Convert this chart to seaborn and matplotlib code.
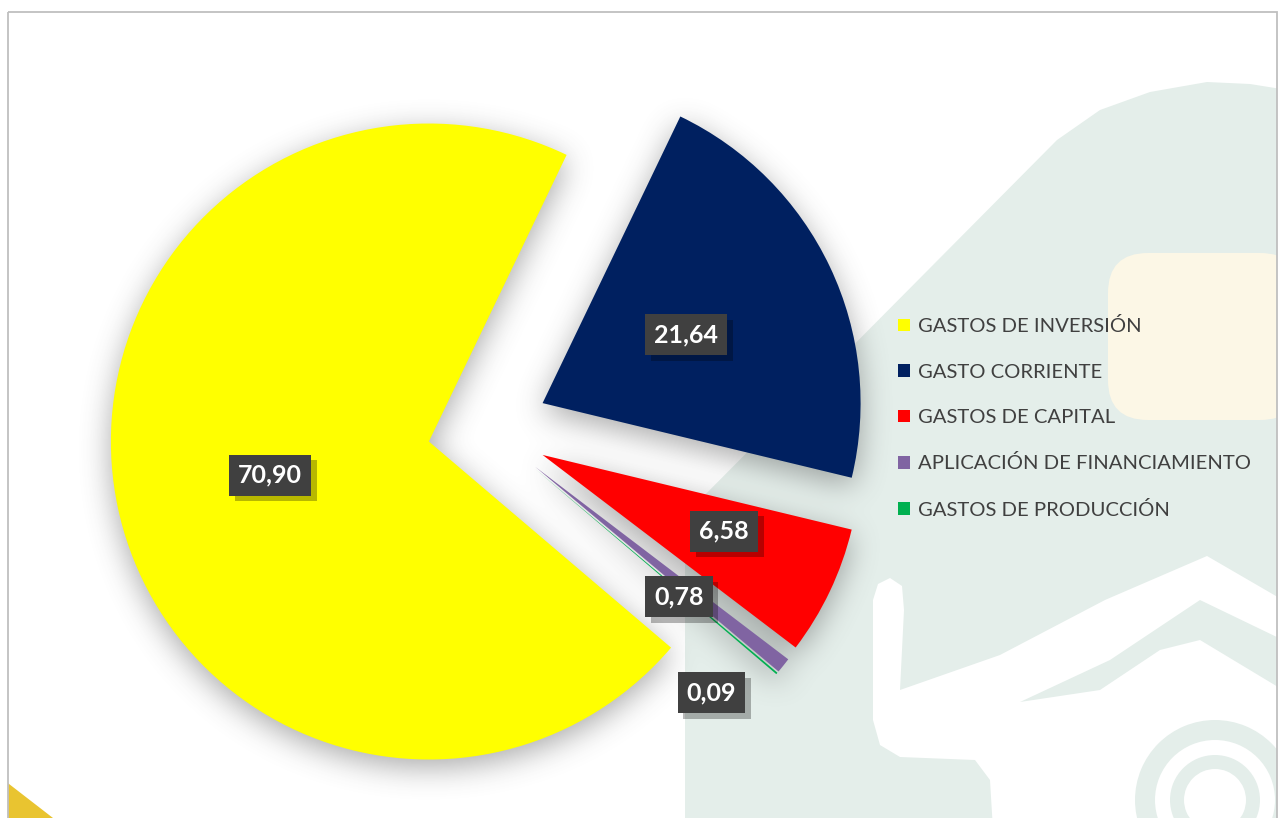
import numpy as np
import matplotlib
matplotlib.use("Agg")
import matplotlib.pyplot as plt
import seaborn as sns
from matplotlib.patches import Rectangle, Polygon, FancyBboxPatch, Wedge
from matplotlib import patheffects as pe

# ---------------- data ----------------
categories = ["GASTOS DE INVERSIÓN", "GASTO CORRIENTE", "GASTOS DE CAPITAL",
              "APLICACIÓN DE FINANCIAMIENTO", "GASTOS DE PRODUCCIÓN"]
values = [70.90, 21.64, 6.58, 0.78, 0.09]
colors = ["#FFFF00", "#002060", "#FF0000", "#8064A2", "#00B050"]

# label placement (fraction of radius from wedge centre, angular offset in degrees)
label_dist = [0.51, 0.50, 0.62, 0.61, 0.90]
label_dang = [0.0, 0.0, 2.6, -3.4, -11.5]

sns.set_theme(style="white")
plt.rcParams['font.family'] = ['Lato', 'DejaVu Sans']

W, H = 1283, 818
fig = plt.figure(figsize=(W / 100, H / 100), dpi=100)
fig.patch.set_facecolor('white')

# ---------------- background watermark (pixel-space axes) ----------------
bg = fig.add_axes([0, 0, 1, 1], zorder=0)
bg.set_xlim(0, W)
bg.set_ylim(H, 0)
bg.axis('off')

clip = Rectangle((8, 12), 1277 - 8, 830, facecolor='none', edgecolor='none')
bg.add_patch(clip)

green = '#E4EEEA'
beige = '#FCF7E6'
gpts = [(685, 830), (685, 515), (1057, 140), (1100, 110), (1150, 92), (1207, 82),
        (1250, 84), (1300, 92), (1300, 830)]
shapes = [Polygon(gpts, closed=True, facecolor=green, edgecolor='none', zorder=0)]
shapes.append(FancyBboxPatch((1108, 253), 1300 - 1108, 420 - 253,
                             boxstyle='round,pad=0,rounding_size=40',
                             facecolor=beige, edgecolor='none', zorder=0.1))
wpts = [(873, 600), (878, 584), (890, 578), (902, 586), (904, 610), (900, 690),
        (1000, 655), (1105, 600), (1207, 556), (1300, 610), (1300, 830), (993, 830),
        (990, 780), (975, 760), (900, 757), (880, 745), (873, 720)]
shapes.append(Polygon(wpts, closed=True, facecolor='white', edgecolor='none', zorder=0.2))
bpts = [(1020, 702), (1110, 660), (1200, 600), (1283, 640), (1283, 690), (1200, 640),
        (1160, 650), (1100, 690)]
shapes.append(Polygon(bpts, closed=True, facecolor=green, edgecolor='none', zorder=0.3))
for rad, wd in [(80, 20), (45, 14)]:
    shapes.append(Wedge((1215, 800), rad, 0, 360, width=wd, facecolor=green,
                        edgecolor='none', zorder=0.3))
shapes.append(Polygon([(0, 777), (53, 818), (0, 818)], closed=True,
                      facecolor='#E9C430', edgecolor='none', zorder=0.3))
for s in shapes:
    bg.add_patch(s)
    s.set_clip_path(clip)
bg.add_patch(Rectangle((8, 12), 1277 - 8, 830, fill=False, edgecolor='#BFBFBF',
                       linewidth=1.3, zorder=5))

# ---------------- pie ----------------
ax = fig.add_axes([0, 0, 1, 1], zorder=1)
ax.set_facecolor('none')
R = 318.0
cxp, cyp = 488.0, 429.0

wedges, _ = ax.pie(values, colors=colors, startangle=-40.4, counterclock=False,
                   explode=[0.19] * len(values), radius=1.0,
                   wedgeprops=dict(linewidth=0, zorder=3))

xlim = (-cxp / R, (W - cxp) / R)
ylim = (-(H - cyp) / R, cyp / R)

# soft shadow built from the wedge geometry
xs = np.linspace(xlim[0], xlim[1], W)
ys = np.linspace(ylim[1], ylim[0], H)
X, Y = np.meshgrid(xs, ys)
mask = np.zeros_like(X)
for w in wedges:
    c = w.center
    dx, dy = X - c[0], Y - c[1]
    rr = np.hypot(dx, dy)
    ang = np.degrees(np.arctan2(dy, dx))
    inside = (rr <= w.r) & (((ang - w.theta1) % 360) <= (w.theta2 - w.theta1))
    mask[inside] = 1.0


def box_blur(a, k):
    out = a.copy()
    for axis in (0, 1):
        pad = [(0, 0), (0, 0)]
        pad[axis] = (k + 1, k)
        p = np.pad(out, pad, mode='edge')
        cs = np.cumsum(p, axis=axis)
        if axis == 0:
            out = (cs[2 * k + 1:, :] - cs[:-2 * k - 1, :]) / (2 * k + 1)
        else:
            out = (cs[:, 2 * k + 1:] - cs[:, :-2 * k - 1]) / (2 * k + 1)
    return out


sh = mask
for _ in range(3):
    sh = box_blur(sh, 14)
shift = 8
sh = np.roll(sh, shift, axis=0)
sh[:shift, :] = 0
rgba = np.zeros((H, W, 4))
rgba[..., :3] = 0.3
rgba[..., 3] = np.clip(sh * 0.48, 0, 1)
ax.imshow(rgba, extent=(xlim[0], xlim[1], ylim[0], ylim[1]), zorder=1,
          interpolation='nearest', aspect='auto')
ax.set_xlim(*xlim)
ax.set_ylim(*ylim)
ax.set_aspect('equal')
ax.axis('off')

# ---------------- data labels ----------------
for w, v, d, da in zip(wedges, values, label_dist, label_dang):
    mid = np.radians((w.theta1 + w.theta2) / 2 + da)
    px = w.center[0] + d * w.r * np.cos(mid)
    py = w.center[1] + d * w.r * np.sin(mid)
    s = f"{v:.2f}".replace('.', ',')
    t = ax.text(px, py, s, ha='center', va='center', fontsize=18, fontweight='bold',
                color='white', zorder=5,
                bbox=dict(boxstyle='square,pad=0.36', fc='#404040', ec='none'))
    t.get_bbox_patch().set_path_effects(
        [pe.SimplePatchShadow(offset=(4, -4), shadow_rgbFace='black', alpha=0.28),
         pe.Normal()])

# ---------------- legend ----------------
leg = ax.legend(wedges, categories, loc='center left',
                bbox_to_anchor=(898 / W, 1 - 418 / H), bbox_transform=fig.transFigure,
                frameon=False, fontsize=14.6, handlelength=0.58, handleheight=0.58,
                handletextpad=0.42, labelspacing=1.4, borderpad=0, borderaxespad=0,
                labelcolor='#404040')
leg.set_zorder(6)

fig.savefig('out.png', dpi=100, facecolor='white')
